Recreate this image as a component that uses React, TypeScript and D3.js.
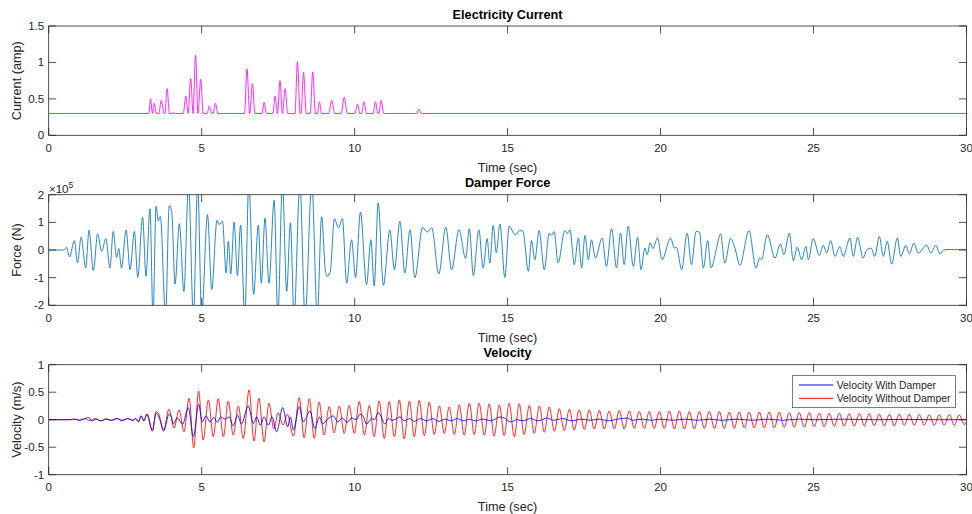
import React from 'react';
import * as d3 from 'd3';

// --- data ---
const timeTicks = [0, 5, 10, 15, 20, 25, 30];
const currentTicks = [0, 0.5, 1, 1.5];
const forceTicks = [-2, -1, 0, 1, 2];
const velocityTicks = [-1, -0.5, 0, 0.5, 1];

// electricity current (amp): baseline 0.3 with pulses [time, value]
const currentPoints: [number, number][] = [
  [0, 0.3], [3.27, 0.3], [3.33, 0.5], [3.39, 0.3], [3.45, 0.44], [3.52, 0.3], [3.6, 0.3], [3.68, 0.48],
  [3.77, 0.3], [3.8, 0.3], [3.87, 0.64], [3.95, 0.3], [4.04, 0.3], [4.08, 0.31], [4.12, 0.3], [4.4, 0.3],
  [4.48, 0.54], [4.56, 0.3], [4.64, 0.78], [4.72, 0.3], [4.8, 1.1], [4.88, 0.3], [4.97, 0.77], [5.05, 0.3],
  [5.18, 0.3], [5.25, 0.4], [5.33, 0.3], [5.37, 0.3], [5.45, 0.44], [5.53, 0.3], [6.4, 0.3], [6.48, 0.91],
  [6.57, 0.3], [6.66, 0.71], [6.74, 0.3], [6.97, 0.3], [7.04, 0.45], [7.12, 0.3], [7.33, 0.3], [7.4, 0.54],
  [7.48, 0.3], [7.56, 0.75], [7.64, 0.3], [7.73, 0.64], [7.81, 0.3], [8.05, 0.3], [8.13, 1.01], [8.22, 0.3],
  [8.25, 0.3], [8.33, 0.86], [8.42, 0.3], [8.55, 0.3], [8.63, 0.87], [8.72, 0.3], [8.78, 0.3], [8.85, 0.46],
  [8.92, 0.3], [9.15, 0.3], [9.25, 0.48], [9.35, 0.3], [9.56, 0.3], [9.66, 0.52], [9.76, 0.3], [10.01, 0.3],
  [10.09, 0.43], [10.17, 0.3], [10.23, 0.3], [10.31, 0.46], [10.39, 0.3], [10.6, 0.3], [10.68, 0.46],
  [10.76, 0.3], [10.79, 0.3], [10.87, 0.48], [10.95, 0.3], [12.02, 0.3], [12.1, 0.36], [12.18, 0.3], [30, 0.3],
];

// damper force (x1e5 N), turning points [time, value]
const forcePoints: [number, number][] = [
  [0, 0], [0.5, 0], [0.58, 0.1], [0.68, -0.25], [0.84, 0.34], [0.94, -0.46], [1.06, 0.46], [1.21, -0.65],
  [1.32, 0.72], [1.46, -0.75], [1.6, 0.58], [1.73, -0.05], [1.87, 0.41], [2.0, -0.65], [2.11, 0.67],
  [2.22, -0.27], [2.29, 0.05], [2.38, -0.65], [2.53, 0.72], [2.66, -0.71], [2.8, 0.67], [2.91, -0.99],
  [3.07, 1.18], [3.18, -0.95], [3.31, 1.49], [3.41, -2.4], [3.51, 1.58], [3.58, 1.06], [3.65, 1.22],
  [3.82, -2.4], [3.94, 1.61], [4.02, 1.4], [4.13, -1.23], [4.27, 0.95], [4.42, -1.5], [4.57, 2.4],
  [4.73, -2.4], [4.87, 2.4], [5.0, -2.4], [5.19, 1.28], [5.33, -1.43], [5.5, 1.07], [5.57, 0.92],
  [5.68, 1.04], [5.8, -0.83], [5.87, 0.31], [5.95, -0.87], [6.06, 1.01], [6.17, -0.92], [6.27, 0.9],
  [6.41, -2.4], [6.54, 2.4], [6.7, -1.6], [6.85, 0.9], [6.95, -1.2], [7.07, 1.15], [7.2, -1.2], [7.37, 1.8],
  [7.49, -2.4], [7.64, 2.4], [7.78, -1.5], [7.9, 0.98], [8.02, -2.4], [8.21, 2.4], [8.38, -2.4], [8.6, 2.4],
  [8.78, -2.4], [8.92, 1.2], [9.04, -0.7], [9.1, -0.95], [9.2, -0.8], [9.34, 1.13], [9.47, 0.8], [9.6, 1.13],
  [9.74, -1.2], [9.9, 0.37], [10.03, -1.0], [10.19, 1.37], [10.39, -1.25], [10.53, 0.37], [10.64, -1.3],
  [10.77, 1.7], [10.94, -1.28], [11.15, 0.73], [11.3, -0.71], [11.48, 1.04], [11.64, -0.83], [11.81, 0.73],
  [11.97, -1.0], [12.22, 0.82], [12.37, 0.65], [12.52, 0.8], [12.75, -0.87], [12.98, 0.82], [13.17, -0.71],
  [13.41, 0.73], [13.63, -0.31], [13.75, 0.77], [13.88, -0.92], [14.06, 0.73], [14.2, -0.65], [14.33, 0.41],
  [14.42, -0.47], [14.53, 0.89], [14.63, -0.1], [14.75, 0.94], [14.91, -0.99], [15.05, 0.86], [15.25, 0.55],
  [15.4, 0.7], [15.5, 0.68], [15.68, -0.77], [15.78, 0.34], [15.89, -0.35], [16.03, 0.7], [16.2, -0.71],
  [16.36, 0.61], [16.43, 0.52], [16.52, 0.67], [16.65, -0.47], [16.87, 0.7], [16.95, 0.6], [17.04, 0.72],
  [17.18, -0.53], [17.31, 0.43], [17.42, -0.65], [17.53, 0.53], [17.64, -0.35], [17.74, 0.37], [17.87, -0.29],
  [18.09, 0.43], [18.23, -0.59], [18.4, 0.77], [18.56, -0.65], [18.69, 0.61], [18.81, -0.53], [18.94, 0.86],
  [19.11, -0.59], [19.25, 0.46], [19.36, -0.71], [19.49, 0.07], [19.56, -0.17], [19.66, 0.25], [19.75, 0.05],
  [19.9, 0.43], [20.05, -0.35], [20.33, 0.43], [20.45, 0.07], [20.52, 0.1], [20.69, -0.71], [20.87, 0.61],
  [21.01, -0.53], [21.16, 0.67], [21.27, 0.65], [21.4, -0.65], [21.54, 0.34], [21.65, -0.65], [21.82, 0.01],
  [21.96, 0.59], [22.1, -0.47], [22.29, 0.41], [22.43, 0.07], [22.59, -0.55], [22.89, 0.7], [23.12, -0.65],
  [23.24, -0.29], [23.3, -0.35], [23.49, 0.55], [23.74, -0.29], [23.92, 0.22], [24.03, -0.17], [24.21, 0.61],
  [24.34, -0.39], [24.47, 0.1], [24.61, -0.35], [24.75, 0.13], [24.83, -0.35], [24.99, 0.41], [25.19, -0.19],
  [25.32, 0.17], [25.43, -0.11], [25.56, 0.34], [25.7, -0.23], [25.86, 0.12], [25.97, -0.23], [26.19, 0.43],
  [26.3, -0.23], [26.44, 0.46], [26.62, -0.29], [26.74, 0.0], [26.88, 0.07], [27.0, -0.23], [27.15, 0.49],
  [27.28, -0.23], [27.41, 0.31], [27.55, -0.51], [27.74, 0.43], [27.85, -0.23], [28.02, 0.17], [28.13, -0.14],
  [28.28, 0.25], [28.42, -0.11], [28.7, 0.17], [28.83, -0.11], [29.0, 0.17], [29.13, -0.14], [29.25, 0.0],
  [29.4, 0.02], [29.6, 0.01], [29.8, 0.02], [30, 0.01],
];

// velocity without damper (m/s), turning points
const velocityWithout: [number, number][] = [
  [0, 0], [0.7, 0], [0.85, 0.01], [1.0, -0.01], [1.17, 0.02], [1.35, -0.02], [1.52, 0.02], [1.7, -0.02],
  [1.88, 0.015], [2.05, -0.015], [2.22, 0.02], [2.4, -0.02], [2.58, 0.02], [2.75, -0.01], [2.85, 0.02],
  [2.93, -0.04], [3.02, 0.07], [3.11, -0.02], [3.2, 0.1], [3.39, -0.21], [3.51, 0.15], [3.6, 0.1],
  [3.75, -0.21], [3.93, 0.19], [4.1, -0.15], [4.26, 0.18], [4.42, -0.22], [4.59, 0.39], [4.74, -0.51],
  [4.9, 0.52], [5.05, -0.37], [5.22, 0.36], [5.38, -0.31], [5.54, 0.38], [5.71, -0.31], [5.87, 0.34],
  [6.03, -0.28], [6.2, 0.25], [6.36, -0.34], [6.55, 0.54], [6.71, -0.39], [6.87, 0.39], [7.04, -0.4],
  [7.2, 0.3], [7.36, -0.17], [7.5, 0.13], [7.66, -0.1], [7.8, 0.1], [8.0, -0.3], [8.19, 0.4], [8.35, -0.33],
  [8.52, 0.38], [8.68, -0.34], [8.84, 0.32], [9.0, -0.28], [9.17, 0.24], [9.33, -0.24], [9.5, 0.25],
  [9.66, -0.25], [9.82, 0.26], [9.99, -0.25], [10.15, 0.33], [10.32, -0.28], [10.48, 0.26], [10.64, -0.31],
  [10.8, 0.34], [10.97, -0.34], [11.13, 0.33], [11.3, -0.31], [11.46, 0.36], [11.62, -0.35], [11.79, 0.34],
  [11.95, -0.31], [12.11, 0.35], [12.28, -0.29], [12.44, 0.32], [12.6, -0.27], [12.77, 0.25], [12.93, -0.25],
  [13.09, 0.23], [13.26, -0.27], [13.42, 0.27], [13.58, -0.28], [13.75, 0.3], [13.91, -0.27], [14.07, 0.3],
  [14.24, -0.28], [14.4, 0.29], [14.56, -0.3], [14.73, 0.27], [14.89, -0.29], [15.05, 0.3], [15.22, -0.31],
  [15.38, 0.29], [15.54, -0.27], [15.71, 0.26], [15.87, -0.25], [16.04, 0.25], [16.2, -0.23], [16.36, 0.23],
  [16.53, -0.21], [16.69, 0.2], [16.85, -0.2], [17.02, 0.19], [17.18, -0.19], [17.34, 0.18], [17.51, -0.18],
  [17.67, 0.18], [17.83, -0.17], [18.0, 0.17], [18.16, -0.17], [18.32, 0.16], [18.49, -0.17], [18.65, 0.17],
  [18.81, -0.17], [18.98, 0.16], [19.14, -0.16], [19.3, 0.15], [19.47, -0.16], [19.63, 0.15], [19.79, -0.16],
  [19.96, 0.15], [20.12, -0.16], [20.29, 0.16], [20.45, -0.17], [20.61, 0.16], [20.78, -0.17], [20.94, 0.15],
  [21.1, -0.17], [21.27, 0.15], [21.43, -0.16], [21.59, 0.15], [21.76, -0.16], [21.92, 0.15], [22.08, -0.16],
  [22.25, 0.14], [22.41, -0.16], [22.57, 0.14], [22.74, -0.15], [22.9, 0.14], [23.06, -0.15], [23.23, 0.14],
  [23.39, -0.15], [23.55, 0.14], [23.72, -0.15], [23.88, 0.14], [24.04, -0.14], [24.21, 0.13], [24.37, -0.14],
  [24.53, 0.13], [24.7, -0.14], [24.86, 0.13], [25.02, -0.13], [25.19, 0.12], [25.35, -0.13], [25.51, 0.12],
  [25.68, -0.12], [25.84, 0.12], [26.0, -0.12], [26.17, 0.11], [26.33, -0.12], [26.5, 0.11], [26.66, -0.11],
  [26.82, 0.11], [26.98, -0.11], [27.15, 0.1], [27.31, -0.11], [27.48, 0.1], [27.64, -0.11], [27.8, 0.1],
  [27.97, -0.1], [28.13, 0.1], [28.29, -0.1], [28.46, 0.09], [28.62, -0.1], [28.78, 0.09], [28.95, -0.1],
  [29.11, 0.09], [29.27, -0.1], [29.44, 0.09], [29.6, -0.1], [29.76, 0.09], [29.93, -0.09], [30, -0.03],
];

// velocity with damper (m/s), turning points
const velocityWith: [number, number][] = [
  [0, 0], [0.7, 0], [0.85, 0.01], [1.0, -0.01], [1.15, 0.01], [1.3, 0.04], [1.42, -0.02], [1.55, 0.01],
  [1.7, -0.02], [1.88, 0.01], [2.05, -0.01], [2.22, 0.02], [2.4, -0.01], [2.58, 0.02], [2.75, -0.01],
  [2.85, 0.02], [2.93, -0.04], [3.02, 0.07], [3.11, -0.02], [3.22, 0.1], [3.39, -0.19], [3.51, 0.12],
  [3.6, 0.05], [3.77, -0.19], [3.93, 0.1], [4.0, 0.07], [4.07, -0.08], [4.2, 0.03], [4.38, -0.08],
  [4.56, 0.22], [4.73, -0.31], [4.9, 0.28], [5.02, -0.04], [5.14, 0.07], [5.27, -0.04], [5.4, 0.04],
  [5.51, -0.05], [5.62, 0.05], [5.76, 0.01], [5.9, 0.05], [6.03, -0.11], [6.18, 0.08], [6.3, -0.08],
  [6.52, 0.25], [6.69, -0.07], [6.8, 0.05], [6.92, -0.1], [7.04, 0.05], [7.18, -0.1], [7.3, 0.05],
  [7.45, -0.22], [7.65, 0.22], [7.81, -0.13], [7.9, 0.05], [8.0, -0.19], [8.19, 0.24], [8.32, -0.04],
  [8.4, 0.02], [8.54, 0.16], [8.7, -0.16], [8.85, 0.05], [8.95, -0.08], [9.1, 0.0], [9.3, 0.07],
  [9.45, -0.04], [9.6, 0.03], [9.75, -0.05], [9.9, 0.03], [10.05, 0.0], [10.17, 0.1], [10.27, 0.07],
  [10.39, -0.08], [10.55, 0.02], [10.65, 0.0], [10.77, 0.13], [10.87, 0.05], [10.99, -0.08], [11.1, 0.02],
  [11.22, -0.01], [11.35, 0.01], [11.48, 0.05], [11.62, -0.02], [11.8, 0.02], [11.95, -0.03], [12.15, 0.02],
  [12.35, -0.02], [12.55, 0.02], [12.75, -0.03], [12.95, 0.01], [13.15, -0.02], [13.35, 0.02], [13.55, -0.02],
  [13.75, 0.01], [13.95, -0.02], [14.2, 0.01], [14.45, -0.02], [14.75, 0.05], [14.9, 0.03], [15.1, -0.04],
  [15.3, 0.0], [15.5, -0.02], [15.75, 0.02], [16.0, -0.02], [16.3, 0.03], [16.5, -0.01], [16.8, 0.02],
  [17.1, -0.02], [17.4, 0.01], [17.7, -0.01], [18.0, 0.01], [18.3, -0.02], [18.6, 0.01], [18.9, 0.03],
  [19.1, -0.01], [19.4, 0.01], [19.7, -0.01], [20.0, 0.01], [20.4, -0.01], [20.8, 0.01], [21.2, -0.01],
  [21.6, 0.01], [22.0, -0.01], [22.5, 0.01], [23.0, -0.01], [23.5, 0.01], [24.0, -0.01], [24.5, 0.01],
  [25.0, 0.0], [26, 0.01], [27, 0], [28, 0.005], [29, 0], [30, 0],
];

const W = 972;
const H = 514;
const FONT = '"Liberation Sans", Arial, Helvetica, sans-serif';
const AXIS = '#262626';
const TICK_LEN = 7.5;

const x = d3.scaleLinear().domain([0, 30]).range([48.7, 966.5]);

function fmt(v: number) {
  return String(v);
}

function Panel(props: {
  id: string;
  top: number;
  bottom: number;
  domain: [number, number];
  ticks: number[];
  title: string;
  ylabel: string;
  series: { data: [number, number][]; color: string }[];
  children?: React.ReactNode;
}) {
  const { id, top, bottom, domain, ticks, title, ylabel, series } = props;
  const y = d3.scaleLinear().domain(domain).range([bottom, top]);
  const [x0, x1] = x.range();
  const line = d3
    .line<[number, number]>()
    .x((d) => x(d[0]))
    .y((d) => y(d[1]))
    .curve(d3.curveMonotoneX);

  return (
    <g>
      <defs>
        <clipPath id={id}>
          <rect x={x0} y={top} width={x1 - x0} height={bottom - top} />
        </clipPath>
      </defs>
      <rect x={x0} y={top} width={x1 - x0} height={bottom - top} fill="#fff" />
      <g clipPath={`url(#${id})`}>
        {series.map((s, i) => (
          <path key={i} d={line(s.data) || ''} fill="none" stroke={s.color} strokeWidth={0.85} />
        ))}
      </g>
      {/* box */}
      <rect x={x0} y={top} width={x1 - x0} height={bottom - top} fill="none" stroke={AXIS} strokeWidth={0.8} />
      {/* x ticks */}
      {timeTicks.map((t) => (
        <g key={'x' + t}>
          <line x1={x(t)} x2={x(t)} y1={bottom} y2={bottom - TICK_LEN} stroke={AXIS} strokeWidth={0.8} />
          <line x1={x(t)} x2={x(t)} y1={top} y2={top + TICK_LEN} stroke={AXIS} strokeWidth={0.8} />
          <text x={x(t)} y={bottom + 16.5} textAnchor="middle" fontSize={11.5} fill={AXIS} fontFamily={FONT}>
            {fmt(t)}
          </text>
        </g>
      ))}
      {/* y ticks */}
      {ticks.map((v) => (
        <g key={'y' + v}>
          <line x1={x0} x2={x0 + TICK_LEN} y1={y(v)} y2={y(v)} stroke={AXIS} strokeWidth={0.8} />
          <line x1={x1} x2={x1 - TICK_LEN} y1={y(v)} y2={y(v)} stroke={AXIS} strokeWidth={0.8} />
          <text x={x0 - 4.5} y={y(v)} dy="0.35em" textAnchor="end" fontSize={11.5} fill={AXIS} fontFamily={FONT}>
            {fmt(v)}
          </text>
        </g>
      ))}
      <text x={(x0 + x1) / 2} y={bottom + 36.5} textAnchor="middle" fontSize={12.7} fill={AXIS} fontFamily={FONT}>
        Time (sec)
      </text>
      <text
        transform={`translate(16.7,${(top + bottom) / 2}) rotate(-90)`}
        dy="0.35em"
        textAnchor="middle"
        fontSize={12.7}
        fill={AXIS}
        fontFamily={FONT}
      >
        {ylabel}
      </text>
      <text x={(x0 + x1) / 2} y={top - 7.4} textAnchor="middle" fontSize={12.7} fontWeight="bold" fill="#000" fontFamily={FONT}>
        {title}
      </text>
      {props.children}
    </g>
  );
}

export default function App() {
  const legendItems = [
    { label: 'Velocity With Damper', color: '#0000ff' },
    { label: 'Velocity Without Damper', color: '#ff0000' },
  ];
  return (
    <svg width={W} height={H} style={{ position: 'absolute', left: 0, top: 0, background: '#fff' }}>
      <rect width={W} height={H} fill="#fff" />
      <Panel
        id="clip-current"
        top={26}
        bottom={135.3}
        domain={[0, 1.5]}
        ticks={currentTicks}
        title="Electricity Current"
        ylabel="Current (amp)"
        series={[{ data: currentPoints, color: '#ff00ff' }]}
      />
      <Panel
        id="clip-force"
        top={194.7}
        bottom={305.3}
        domain={[-2, 2]}
        ticks={forceTicks}
        title="Damper Force"
        ylabel="Force (N)"
        series={[{ data: forcePoints, color: '#0072bd' }]}
      >
        <text x={49} y={192.5} fontSize={11.5} fill={AXIS} fontFamily={FONT}>
          ×10<tspan fontSize={8.5} dy={-4.5}>5</tspan>
        </text>
      </Panel>
      <Panel
        id="clip-velocity"
        top={364.7}
        bottom={474.7}
        domain={[-1, 1]}
        ticks={velocityTicks}
        title="Velocity"
        ylabel="Velocity (m/s)"
        series={[
          { data: velocityWithout, color: '#ff0000' },
          { data: velocityWith, color: '#0000ff' },
        ]}
      >
        <g>
          <rect x={792.3} y={375.7} width={163.4} height={32} fill="#fff" stroke={AXIS} strokeWidth={0.6} />
          {legendItems.map((it, i) => (
            <g key={it.label}>
              <line x1={799} x2={833.3} y1={385 + i * 13.3} y2={385 + i * 13.3} stroke={it.color} strokeWidth={1} />
              <text x={836.7} y={385 + i * 13.3} dy="0.35em" fontSize={10.4} fill={AXIS} fontFamily={FONT}>
                {it.label}
              </text>
            </g>
          ))}
        </g>
      </Panel>
    </svg>
  );
}
